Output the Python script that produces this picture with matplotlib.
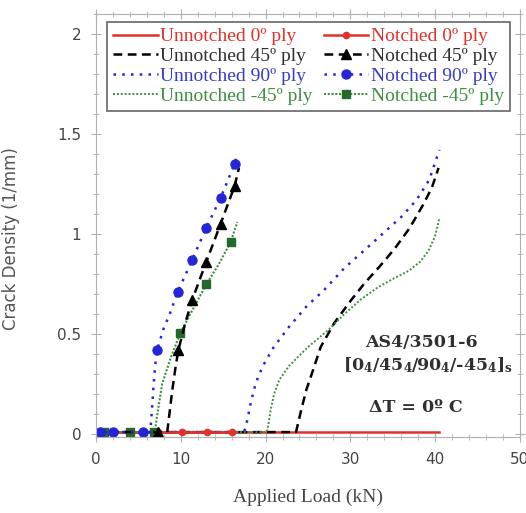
import matplotlib
matplotlib.use("Agg")
import matplotlib.pyplot as plt
from matplotlib.ticker import MultipleLocator

plt.rcParams['mathtext.fontset'] = 'custom'
plt.rcParams['mathtext.rm'] = 'DejaVu Serif:bold'
plt.rcParams['mathtext.default'] = 'rm'

# Unnotched laminate: crack density (1/mm) vs applied load (kN)
un0_load = [0.0, 40.5]
un0_dens = [0.01, 0.01]

un45_load = [0.0, 23.6, 23.7, 24.2, 24.8, 25.6, 26.5, 28.1, 30.1, 31.6, 33.4,
             35.2, 37.0, 38.5, 39.6, 40.4]
un45_dens = [0.01, 0.01, 0.03, 0.12, 0.22, 0.32, 0.435, 0.555, 0.67, 0.75, 0.835,
             0.925, 1.03, 1.14, 1.23, 1.33]

un90_load = [0.0, 17.4, 17.65, 18.25, 18.84, 19.67, 20.97, 22.75, 24.76, 26.9,
             29.3, 31.3, 33.65, 36.0, 37.8, 39.3, 40.5]
un90_dens = [0.01, 0.01, 0.03, 0.155, 0.255, 0.34, 0.435, 0.535, 0.635, 0.72,
             0.83, 0.905, 0.995, 1.085, 1.17, 1.27, 1.42]

unm45_load = [0.0, 20.1, 20.26, 20.6, 21.0, 21.6, 22.75, 25.0, 27.4, 29.3, 31.3,
              33.3, 35.0, 36.85, 38.2, 39.2, 40.0, 40.5]
unm45_dens = [0.01, 0.01, 0.03, 0.12, 0.2, 0.27, 0.34, 0.435, 0.52, 0.6, 0.675,
              0.735, 0.775, 0.815, 0.86, 0.915, 0.99, 1.08]

# Notched laminate (markers show the measured points)
n0_load = [0.5, 2.0, 4.0, 5.6, 7.3, 10.2, 13.1, 16.0]
n0_dens = [0.01, 0.01, 0.01, 0.01, 0.01, 0.01, 0.01, 0.01]

n45_load = [0.0, 7.3, 8.4, 8.6, 9.0, 9.4, 9.72, 10.5, 11.34, 13.0, 14.69, 16.35, 16.86]
n45_dens = [0.01, 0.01, 0.01, 0.08, 0.22, 0.34, 0.42, 0.55, 0.67, 0.86, 1.05, 1.24, 1.33]
n45_marks = [1, 6, 8, 9, 10, 11]

n90_load = [0.0, 0.5, 2.0, 5.6, 6.4, 6.6, 6.8, 7.0, 7.2, 8.0, 8.7, 9.63, 11.34,
            13.0, 14.69, 16.35, 16.67]
n90_dens = [0.01, 0.01, 0.01, 0.01, 0.01, 0.12, 0.25, 0.35, 0.42, 0.53, 0.6, 0.71,
            0.87, 1.03, 1.18, 1.35, 1.395]
n90_marks = [1, 2, 3, 8, 11, 12, 13, 14, 15]

nm45_load = [0.0, 1.0, 4.0, 6.8, 7.0, 7.2, 7.8, 8.8, 9.95, 11.5, 13.03, 14.5, 15.88, 16.67]
nm45_dens = [0.01, 0.01, 0.01, 0.01, 0.03, 0.09, 0.25, 0.38, 0.505, 0.63, 0.75, 0.85,
             0.96, 1.06]
nm45_marks = [1, 2, 3, 8, 10, 12]

red = '#e3302c'
blue = '#2424d8'
green = '#3f8f3f'
dkgreen = '#24692c'

fig = plt.figure(figsize=(5.26, 5.13), dpi=100)
ax = fig.add_axes([0.1825, 0.148, 0.806, 0.825])

ax.plot(un0_load, un0_dens, color=red, lw=1.8, label='Unnotched 0º ply')
ax.plot(un45_load, un45_dens, color='black', lw=1.8, ls=(0, (3.5, 2.2)),
        label='Unnotched 45º ply')
ax.plot(un90_load, un90_dens, color=blue, lw=1.8, ls=(0, (1, 2.5)),
        label='Unnotched 90º ply')
ax.plot(unm45_load, unm45_dens, color=green, lw=1.4, ls=(0, (1, 1)),
        label='Unnotched -45º ply')

ax.plot(n0_load, n0_dens, color=red, lw=1.8, marker='o', ms=4.5, label='Notched 0º ply')
ax.plot(nm45_load, nm45_dens, color=green, lw=1.5, ls=(0, (1, 0.8)), marker='s', ms=6,
        mfc=dkgreen, mec=dkgreen, markevery=nm45_marks, label='Notched -45º ply')
ax.plot(n45_load, n45_dens, color='black', lw=1.8, ls=(0, (3.5, 2.2)), marker='^', ms=7,
        markevery=n45_marks, label='Notched 45º ply')
ax.plot(n90_load, n90_dens, color=blue, lw=1.8, ls=(0, (1, 2.5)), marker='o', ms=6.5,
        markevery=n90_marks, label='Notched 90º ply')

ax.set_xlim(0, 50)
ax.set_ylim(-0.015, 2.1)
ax.xaxis.set_major_locator(MultipleLocator(10))
ax.xaxis.set_minor_locator(MultipleLocator(2))
ax.yaxis.set_major_locator(MultipleLocator(0.5))
ax.yaxis.set_minor_locator(MultipleLocator(0.1))
ax.yaxis.set_major_formatter(plt.FuncFormatter(lambda v, p: f'{v:g}'))

for s in ax.spines.values():
    s.set_color('#b0b0b0')
    s.set_linewidth(0.8)
ax.tick_params(which='both', direction='inout', top=True, right=True,
               color='#b0b0b0', labelcolor='#454545', labelsize=11)
ax.tick_params(which='major', length=7, pad=7)
ax.tick_params(which='minor', length=4)
for lab in ax.get_xticklabels() + ax.get_yticklabels():
    lab.set_family('DejaVu Sans')

ax.set_xlabel('Applied Load (kN)', family='Liberation Serif', fontsize=14,
              color='#454545', labelpad=16)
ax.set_ylabel('Crack Density (1/mm)', family='DejaVu Sans', fontsize=12,
              color='#555555')
ax.yaxis.set_label_coords(-0.179, 0.468)

# Legend: unnotched in the left column, notched in the right
h, l = ax.get_legend_handles_labels()
order = [0, 1, 2, 3, 4, 6, 7, 5]
leg = ax.legend([h[i] for i in order], [l[i] for i in order], ncol=2,
                loc='upper left', bbox_to_anchor=(0.026, 0.981),
                prop={'family': 'Liberation Serif', 'size': 14},
                handlelength=2.3, handletextpad=0.15, columnspacing=0.55,
                labelspacing=0.12, borderpad=0.3, borderaxespad=0.0,
                frameon=True, fancybox=False)
leg.get_frame().set_edgecolor('#404040')
leg.get_frame().set_linewidth(1.2)
text_colors = [red, '#303030', '#3a3ac8', green, red, '#303030', '#3a3ac8', green]
for t, c in zip(leg.get_texts(), text_colors):
    t.set_color(c)

note = dict(ha='center', va='center', family='DejaVu Serif', fontweight='bold',
            fontsize=12.5, color='#303030')
ax.text(38.4, 0.46, 'AS4/3501-6', **note)
ax.text(39.1, 0.345, r'[0$_4$/45$_4$/90$_4$/-45$_4$]$_s$', **note)
ax.text(37.7, 0.135, 'ΔT = 0º C', **note)

fig.savefig('out.png', dpi=100)
